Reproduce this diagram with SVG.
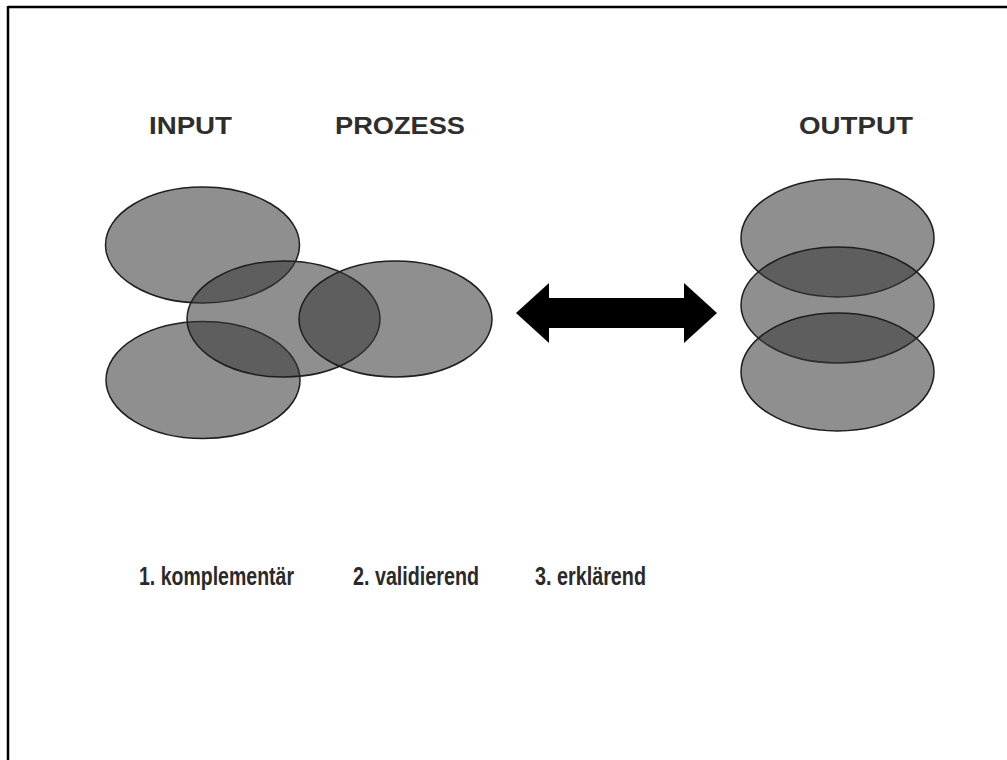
<svg xmlns="http://www.w3.org/2000/svg" width="1007" height="760" viewBox="0 0 1007 760">
  <style>
    .set { fill: #383838; fill-opacity: 0.56; stroke: #1e1e1e; stroke-width: 1.5; }
    .head { font-family: "Liberation Sans", Arial, sans-serif; font-weight: bold; font-size: 23.5px; fill: #2e2e2e; }
    .kind { font-family: "Liberation Sans", Arial, sans-serif; font-weight: bold; font-size: 26px; fill: #2a2a2a; }
    .frame { stroke: #000000; stroke-width: 2.5; fill: none; }
  </style>
  <rect width="1007" height="760" fill="#ffffff"/>

  <!-- page frame: top and left edges only -->
  <g id="frame">
    <line class="frame" x1="8" y1="7" x2="1007" y2="7"/>
    <line class="frame" x1="8" y1="6" x2="8" y2="760"/>
  </g>

  <!-- column headings -->
  <g id="headings">
    <text class="head" x="149" y="134" textLength="83" lengthAdjust="spacingAndGlyphs">INPUT</text>
    <text class="head" x="335" y="134" textLength="130" lengthAdjust="spacingAndGlyphs">PROZESS</text>
    <text class="head" x="799" y="134" textLength="114" lengthAdjust="spacingAndGlyphs">OUTPUT</text>
  </g>

  <!-- input / process sets -->
  <g id="input-top"><ellipse class="set" cx="202.5" cy="245" rx="97" ry="58"/></g>
  <g id="input-bottom"><ellipse class="set" cx="203" cy="380" rx="97" ry="58.5"/></g>
  <g id="input-middle"><ellipse class="set" cx="283.5" cy="319" rx="96.5" ry="58"/></g>
  <g id="process"><ellipse class="set" cx="395.5" cy="319" rx="96.5" ry="58"/></g>

  <!-- output stack -->
  <g id="output-top"><ellipse class="set" cx="837.5" cy="238" rx="96.5" ry="59"/></g>
  <g id="output-middle"><ellipse class="set" cx="837.5" cy="305" rx="96.5" ry="58"/></g>
  <g id="output-bottom"><ellipse class="set" cx="837.5" cy="372" rx="96.5" ry="59"/></g>

  <!-- connectors -->
  <g id="connectors">
    <polygon fill="#000000" points="516,313 549,283 549,298 684,298 684,283 717,313 684,343 684,328 549,328 549,343"/>
  </g>

  <!-- captions -->
  <g id="captions">
    <text class="kind" x="139" y="585" textLength="155" lengthAdjust="spacingAndGlyphs">1. komplementär</text>
    <text class="kind" x="353" y="585" textLength="126" lengthAdjust="spacingAndGlyphs">2. validierend</text>
    <text class="kind" x="535" y="585" textLength="111" lengthAdjust="spacingAndGlyphs">3. erklärend</text>
  </g>
</svg>
